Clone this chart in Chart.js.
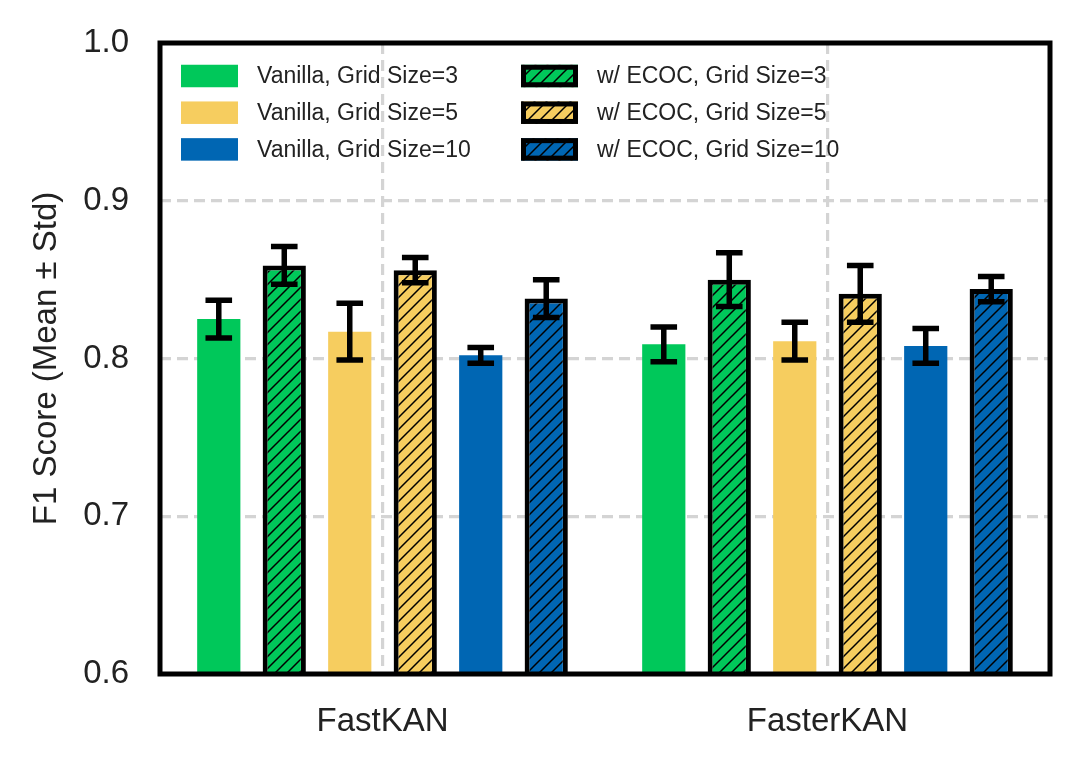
<!DOCTYPE html>
<html>
<head>
<meta charset="utf-8">
<script src="https://cdn.jsdelivr.net/npm/chart.js@4.4.1/dist/chart.umd.min.js"></script>
<style>
html,body{margin:0;padding:0;background:#fff;}
#wrap{width:1081px;height:768px;position:relative;}
</style>
</head>
<body>
<div id="wrap"><canvas id="c" width="1081" height="768"></canvas></div>
<script>
const categories = ['FastKAN', 'FasterKAN'];
const seriesLabels = ['Vanilla, Grid Size=3', 'w/ ECOC, Grid Size=3', 'Vanilla, Grid Size=5', 'w/ ECOC, Grid Size=5', 'Vanilla, Grid Size=10', 'w/ ECOC, Grid Size=10'];
const vanilla3 = [0.825, 0.809];
const vanilla3Std = [0.012, 0.011];
const ecoc3 = [0.859, 0.850];
const ecoc3Std = [0.012, 0.017];
const vanilla5 = [0.817, 0.811];
const vanilla5Std = [0.018, 0.012];
const ecoc5 = [0.856, 0.841];
const ecoc5Std = [0.008, 0.018];
const vanilla10 = [0.802, 0.808];
const vanilla10Std = [0.005, 0.011];
const ecoc10 = [0.838, 0.844];
const ecoc10Std = [0.012, 0.008];
const yTicks = [0.6, 0.7, 0.8, 0.9, 1.0];

const GREEN = '#00C85A', YELLOW = '#F6CD5F', BLUE = '#0066B3';
const FONT = '"Liberation Sans", Arial, Helvetica, sans-serif';
const TEXT = '#222222';

function hatch(color) {
  const s = 12;
  const cv = document.createElement('canvas');
  cv.width = s; cv.height = s;
  const g = cv.getContext('2d');
  g.fillStyle = color; g.fillRect(0, 0, s, s);
  g.strokeStyle = '#000'; g.lineWidth = 1.5;
  g.beginPath();
  g.moveTo(-1, s + 1); g.lineTo(s + 1, -1);
  g.moveTo(-2, 2); g.lineTo(2, -2);
  g.moveTo(s - 2, s + 2); g.lineTo(s + 2, s - 2);
  g.stroke();
  return g.createPattern(cv, 'repeat');
}

const ctx = document.getElementById('c').getContext('2d');

function ds(label, data, std, color, hatched) {
  return {
    label, data, std,
    baseColor: color,
    hatched,
    backgroundColor: hatched ? hatch(color) : color,
    borderColor: hatched ? '#000' : color,
    borderWidth: hatched ? 5 : 0,
    borderSkipped: false,
    categoryPercentage: 0.883,
    barPercentage: 0.66
  };
}

const datasets = [
  ds(seriesLabels[0], vanilla3, vanilla3Std, GREEN, false),
  ds(seriesLabels[1], ecoc3, ecoc3Std, GREEN, true),
  ds(seriesLabels[2], vanilla5, vanilla5Std, YELLOW, false),
  ds(seriesLabels[3], ecoc5, ecoc5Std, YELLOW, true),
  ds(seriesLabels[4], vanilla10, vanilla10Std, BLUE, false),
  ds(seriesLabels[5], ecoc10, ecoc10Std, BLUE, true)
];

const errorBars = {
  id: 'errorBars',
  afterDatasetsDraw(chart) {
    const c = chart.ctx, ys = chart.scales.y;
    c.save();
    c.strokeStyle = '#000';
    c.lineWidth = 5.5;
    c.lineCap = 'butt';
    chart.data.datasets.forEach((d, i) => {
      const meta = chart.getDatasetMeta(i);
      meta.data.forEach((el, j) => {
        const v = d.data[j], e = d.std[j];
        const yt = ys.getPixelForValue(v + e), yb = ys.getPixelForValue(v - e);
        const x = el.x, hw = 13.3;
        c.beginPath();
        c.moveTo(x, yt); c.lineTo(x, yb);
        c.moveTo(x - hw, yt); c.lineTo(x + hw, yt);
        c.moveTo(x - hw, yb); c.lineTo(x + hw, yb);
        c.stroke();
      });
    });
    c.restore();
  }
};

const frameAndLegend = {
  id: 'frameAndLegend',
  afterDraw(chart) {
    const c = chart.ctx, a = chart.chartArea;
    c.save();
    c.strokeStyle = '#000';
    c.lineWidth = 5;
    c.strokeRect(a.left, a.top, a.right - a.left, a.bottom - a.top);
    const ds = chart.data.datasets;
    const boxW = 57, boxH = 22.5, rowH = 36.7;
    const colX = [a.left + 21, a.left + 361];
    const y0 = a.top + 33;
    c.font = '23px ' + FONT;
    c.textBaseline = 'middle';
    c.textAlign = 'left';
    ds.forEach((d, i) => {
      const col = i % 2, row = Math.floor(i / 2);
      const x = colX[col], yc = y0 + row * rowH;
      const y = yc - boxH / 2;
      if (d.hatched) {
        c.fillStyle = d.backgroundColor;
        c.fillRect(x, y, boxW, boxH);
        c.lineWidth = 5;
        c.strokeStyle = '#000';
        c.strokeRect(x + 2.5, y + 2.5, boxW - 5, boxH - 5);
      } else {
        c.fillStyle = d.baseColor;
        c.fillRect(x, y, boxW, boxH);
      }
      c.fillStyle = TEXT;
      c.fillText(d.label, x + boxW + 19, yc + 1);
    });
    c.restore();
  }
};

new Chart(ctx, {
  type: 'bar',
  data: { labels: categories, datasets },
  options: {
    responsive: false,
    animation: false,
    devicePixelRatio: 1,
    layout: { padding: { left: 0, right: 31, top: 43, bottom: 0 } },
    plugins: { legend: { display: false }, tooltip: { enabled: false } },
    scales: {
      x: {
        type: 'category',
        offset: true,
        grid: { display: true, offset: false, drawTicks: false, color: '#d4d4d4', lineWidth: 3.2 },
        border: { display: false, dash: [11, 6] },
        ticks: { padding: 28, color: TEXT, font: { family: FONT, size: 33 } },
        afterFit(s) { s.height = 94; s.paddingLeft = 0; s.paddingRight = 0; }
      },
      y: {
        min: 0.6, max: 1.0,
        afterBuildTicks(s) { s.ticks = yTicks.map(v => ({ value: v })); },
        grid: { display: true, drawTicks: false, color: '#d4d4d4', lineWidth: 3.2 },
        border: { display: false, dash: [11, 6] },
        ticks: { padding: 31, color: TEXT, font: { family: FONT, size: 33 }, callback: v => Number(v).toFixed(1) },
        title: { display: true, text: 'F1 Score (Mean ± Std)', color: TEXT, font: { family: FONT, size: 33, lineHeight: 1 }, padding: { top: 30, bottom: 0 } },
        afterFit(s) { s.width = 160; s.paddingTop = 0; s.paddingBottom = 0; }
      }
    }
  },
  plugins: [errorBars, frameAndLegend]
});
</script>
</body>
</html>
